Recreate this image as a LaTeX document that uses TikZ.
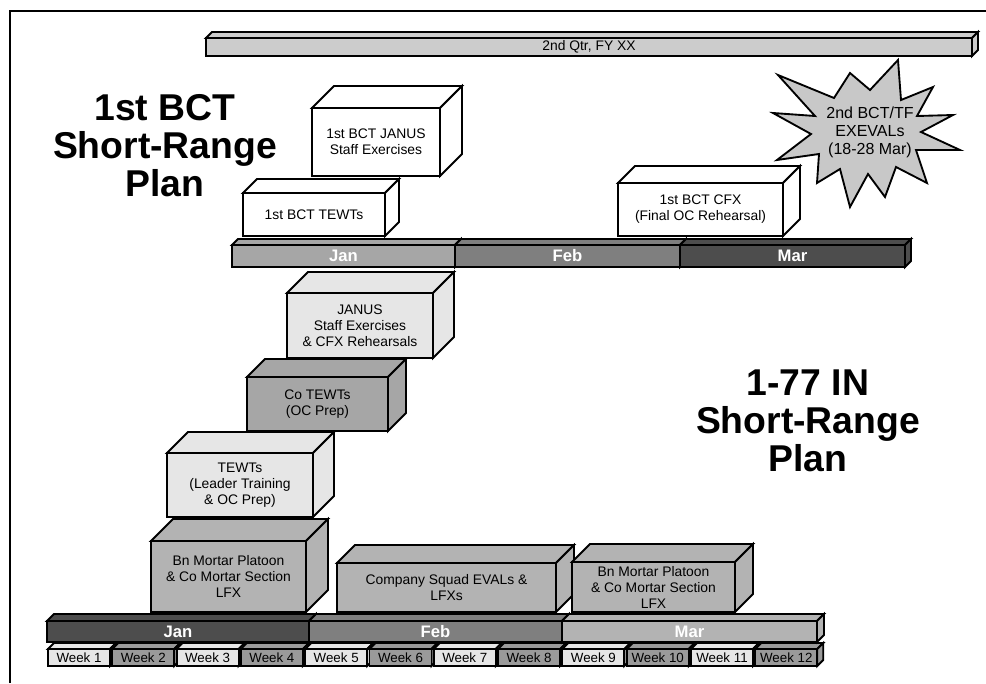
\documentclass[tikz,border=0pt]{standalone}
\usepackage{fontspec}
\setmainfont{Liberation Sans}
\usetikzlibrary{calc}
\definecolor{gybar}{HTML}{CCCCCC}
\definecolor{gyburst}{HTML}{C8C8C8}
\definecolor{gypale}{HTML}{E6E6E6}
\definecolor{gylight}{HTML}{B3B3B3}
\definecolor{gymid}{HTML}{A6A6A6}
\definecolor{gyfeb}{HTML}{7F7F7F}
\definecolor{gydark}{HTML}{4D4D4D}
\definecolor{gyweek}{HTML}{9A9A9A}

% name, x0, y0, x1, y1, depth, fill, label style, text
\newcommand{\solid}[9]{%
  \draw[face,fill=#7] (#2,#3) -- (#2+#6,#3-#6) -- (#4+#6,#3-#6) -- (#4,#3) -- cycle;
  \draw[face,fill=#7] (#4,#3) -- (#4+#6,#3-#6) -- (#4+#6,#5-#6) -- (#4,#5) -- cycle;
  \draw[face,fill=#7] (#2,#3) rectangle (#4,#5);
  \node[#8] (#1) at ({(#2+#4)/2},{(#3+#5)/2}) {#9};}

\begin{document}
\begin{tikzpicture}[x=0.75pt,y=-0.75pt,
      face/.style={draw=black,line width=1.4pt},
      lbl/.style={align=center,font=\fontsize{10.4}{12}\selectfont,inner sep=0pt},
      monthlbl/.style={text=white,font=\fontsize{12.5}{14}\selectfont\bfseries,inner sep=0pt},
      weeklbl/.style={font=\fontsize{10}{12}\selectfont,inner sep=0pt},
      title/.style={align=center,font=\fontsize{28}{28.5}\selectfont\bfseries},
      burst/.style={draw=black,line width=1.4pt,fill=gyburst,line join=miter}]
    \useasboundingbox (0,0) rectangle (986,683);
    \draw[line width=1.6pt] (10,683) -- (10,11) -- (986,11);

    \solid{qtr}{206}{38}{972}{56}{6}{gybar}{lbl}{2nd Qtr, FY XX}

    \draw[burst] (898,60) -- (901,100) -- (933,87) -- (917,116) -- (953,115) -- (921,132)
      -- (960,150) -- (916,150) -- (927,183) -- (896,167) -- (885,197) -- (868,174)
      -- (850,207) -- (840,169) -- (817,183) -- (819,154) -- (777,160) -- (811,134)
      -- (773,113) -- (815,116) -- (778,75) -- (834,98) -- (850,73) -- (870,90) -- cycle;
    \node[align=center,font=\fontsize{12}{13.5}\selectfont,inner sep=0pt] (exeval) at (870,132)
      {2nd BCT/TF\\EXEVALs\\(18-28 Mar)};

    \node[title] (bcttitle) at (165,146) {1st BCT\\Short-Range\\Plan};
    \node[title] (intitle) at (808,421) {1-77 IN\\Short-Range\\Plan};

    % 1st BCT calendar
    \solid{bjan}{232}{245}{455}{267}{6}{gymid}{monthlbl}{Jan}
    \solid{bfeb}{455}{245}{680}{267}{6}{gyfeb}{monthlbl}{Feb}
    \solid{bmar}{680}{245}{905}{267}{6}{gydark}{monthlbl}{Mar}
    \solid{bcttewt}{243}{193}{385}{236}{14}{white}{lbl}{1st BCT TEWTs}
    \solid{bctjanus}{312}{108}{440}{176}{22}{white}{lbl}{1st BCT JANUS\\Staff Exercises}
    \solid{bctcfx}{618}{183}{783}{236}{17}{white}{lbl}{1st BCT CFX\\(Final OC Rehearsal)}

    % 1-77 IN calendar
    \foreach \w [evaluate=\w as \xa using {48+(\w-1)*64.3},
                 evaluate=\w as \xb using {110+(\w-1)*64.3}] in {1,...,12} {
      \ifodd\w \def\wkfill{gypale}\else \def\wkfill{gyweek}\fi
      \solid{wk\w}{\xa}{649}{\xb}{666}{6}{\wkfill}{weeklbl}{Week \w}
    }
    \solid{jan}{47}{621}{309}{642}{7}{gydark}{monthlbl}{Jan}
    \solid{feb}{309}{621}{562}{642}{7}{gyfeb}{monthlbl}{Feb}
    \solid{mar}{562}{621}{817}{642}{7}{gylight}{monthlbl}{Mar}

    \solid{mortara}{151}{541}{306}{612}{22}{gylight}{lbl}{Bn Mortar Platoon\\\& Co Mortar Section\\LFX}
    \solid{squad}{337}{563}{556}{612}{18}{gylight}{lbl}{Company Squad EVALs \&\\LFXs}
    \solid{mortarb}{572}{562}{735}{612}{18}{gylight}{lbl}{Bn Mortar Platoon\\\& Co Mortar Section\\LFX}
    \solid{tewts}{167}{453}{313}{517}{21}{gypale}{lbl}{TEWTs\\(Leader Training\\\& OC Prep)}
    \solid{cotewts}{247}{377}{388}{431}{18}{gymid}{lbl}{Co TEWTs\\(OC Prep)}
    \solid{janus}{287}{293}{433}{358}{21}{gypale}{lbl}{JANUS\\Staff Exercises\\\& CFX Rehearsals}
  \end{tikzpicture}
\end{document}
